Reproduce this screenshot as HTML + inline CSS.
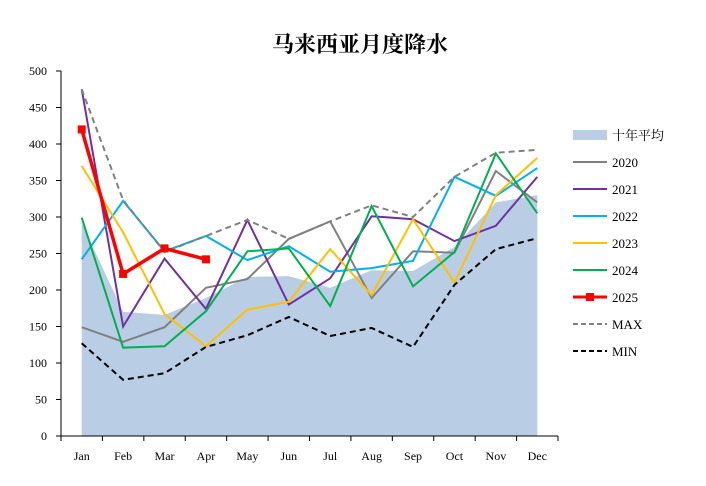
<!DOCTYPE html>
<html><head><meta charset="utf-8"><style>
body{margin:0;background:#fff}
svg text{font-family:"Liberation Serif","Noto Serif CJK SC",serif;fill:#000}
</style></head><body>
<svg id="c" width="706" height="481">
<text x="360" y="52" text-anchor="middle" font-size="22" font-weight="bold">马来西亚月度降水</text>
</svg>
<script>
const months=["Jan","Feb","Mar","Apr","May","Jun","Jul","Aug","Sep","Oct","Nov","Dec"];
const yTicks=[0,50,100,150,200,250,300,350,400,450,500];
const avg10=[292,170,166,189,218,219,203,227,226,259,320,330];
const s2020=[149,129,149,203,215,270,294,189,253,251,363,320];
const s2021=[475,150,243,174,296,180,216,301,297,267,288,355];
const s2022=[242,322,253,274,241,260,225,230,240,355,329,367];
const s2023=[370,279,167,123,173,184,256,193,297,210,330,381];
const s2024=[299,121,123,171,253,257,178,315,205,252,387,305];
const s2025=[420,222,257,242];
const sMax=[475,323,252,274,296,270,294,316,300,355,388,392];
const sMin=[127,77,86,122,138,163,137,148,122,207,256,271];
const svg=document.getElementById('c');const NS="http://www.w3.org/2000/svg";
const X0=61,X1=558,Y0=436,Y1=71;
const bw=(X1-X0)/months.length;
const x=i=>X0+bw*(i+0.5);
const y=v=>Y0-(v/500)*(Y0-Y1);
function mk(t,a){const e=document.createElementNS(NS,t);for(const k in a)e.setAttribute(k,a[k]);svg.appendChild(e);return e;}
// area
let d=`M${x(0)},${Y0}`;avg10.forEach((v,i)=>d+=` L${x(i)},${y(v)}`);d+=` L${x(avg10.length-1)},${Y0} Z`;
const ar=mk('path',{d:d,fill:'#b9cde4'});


// axes
const ax=mk('path',{d:`M${X0},${Y1} L${X0},${Y0} L${X1},${Y0}`,stroke:'#000',fill:'none','stroke-width':1});


yTicks.forEach(t=>{mk('line',{x1:X0-5,x2:X0,y1:y(t),y2:y(t),stroke:'#000'});
const tx=mk('text',{x:X0-14,y:y(t)+4,'text-anchor':'end','font-size':12});tx.textContent=t;

});
for(let i=0;i<=months.length;i++)mk('line',{x1:X0+bw*i,x2:X0+bw*i,y1:Y0,y2:Y0+5,stroke:'#000'});
months.forEach((m,i)=>{const tx=mk('text',{x:x(i),y:Y0+24,'text-anchor':'middle','font-size':12});tx.textContent=m;

});
const series=[
{n:'2020',d:s2020,c:'#808080',w:2,dash:''},
{n:'2021',d:s2021,c:'#7030a0',w:2,dash:''},
{n:'2022',d:s2022,c:'#00b0f0',w:2,dash:''},
{n:'2023',d:s2023,c:'#ffc000',w:2,dash:''},
{n:'2024',d:s2024,c:'#00b050',w:2,dash:''},
{n:'MAX',d:sMax,c:'#808080',w:2,dash:'6,4'},
{n:'MIN',d:sMin,c:'#000',w:2,dash:'6,4'},
{n:'2025',d:s2025,c:'#ff0000',w:3.5,dash:'',mk:true}];
series.forEach(s=>{const p=mk('polyline',{points:s.d.map((v,i)=>x(i)+','+y(v)).join(' '),fill:'none',stroke:s.c,'stroke-width':s.w,'stroke-dasharray':s.dash});


if(s.mk)s.d.forEach((v,i)=>{const r=mk('rect',{x:x(i)-4,y:y(v)-4,width:8,height:8,fill:s.c});

});});
// legend
const leg=[{n:'十年平均',t:'area'},{n:'2020',c:'#808080'},{n:'2021',c:'#7030a0'},{n:'2022',c:'#00b0f0'},{n:'2023',c:'#ffc000'},{n:'2024',c:'#00b050'},{n:'2025',c:'#ff0000',m:true},{n:'MAX',c:'#808080',dash:'5,3'},{n:'MIN',c:'#000',dash:'5,3'}];
leg.forEach((l,i)=>{const cy=135+27*i;
if(l.t==='area')mk('rect',{x:573,y:cy-5,width:34,height:10,fill:'#b9cde4'});
else{mk('line',{x1:573,x2:607,y1:cy,y2:cy,stroke:l.c,'stroke-width':l.m?3:2,'stroke-dasharray':l.dash||''});
if(l.m)mk('rect',{x:586,y:cy-4,width:8,height:8,fill:l.c});}
const tx=mk('text',{x:612,y:cy+5,'font-size':13});tx.textContent=l.n;

});
</script>
</body></html>
